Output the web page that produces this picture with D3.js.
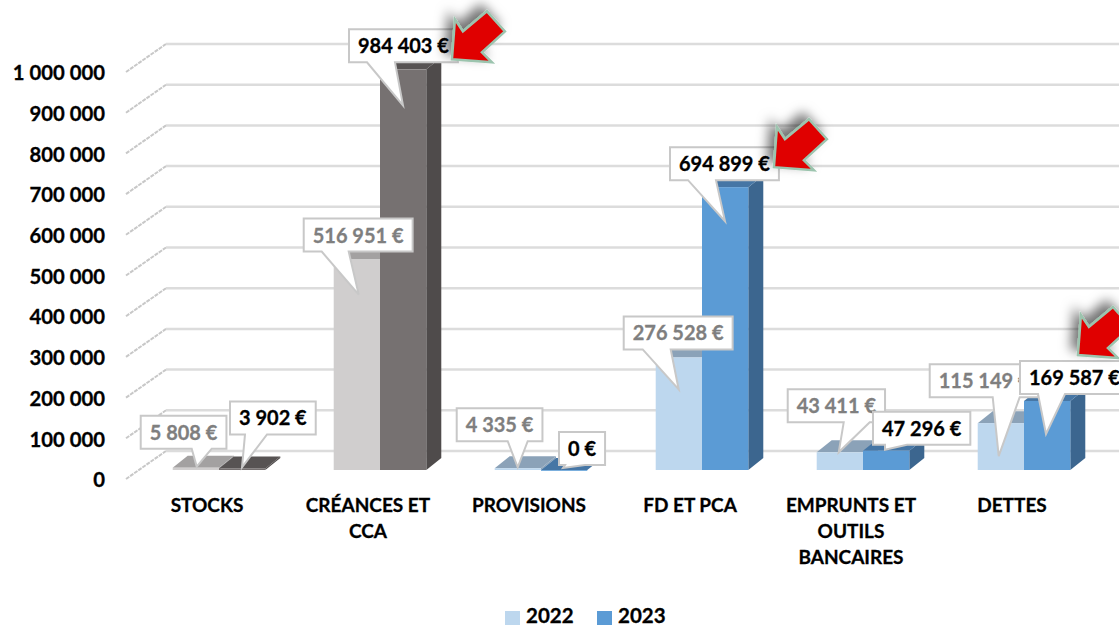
<!DOCTYPE html>
<html lang="fr">
<head>
<meta charset="utf-8">
<title>Bilan passif / actif 2022-2023</title>
<script src="https://cdn.jsdelivr.net/npm/d3@7.9.0/dist/d3.min.js"></script>
<style>
  html, body { margin: 0; padding: 0; background: #fff; overflow: hidden; }
  svg { display: block; }
  text { font-family: Lato, "Open Sans", sans-serif; font-weight: 700; stroke-width: 0.3px; paint-order: stroke; }
</style>
</head>
<body>
<div id="chart"></div>
<script>
const categories = ['STOCKS', 'CRÉANCES ET CCA', 'PROVISIONS', 'FD ET PCA', 'EMPRUNTS ET OUTILS BANCAIRES', 'DETTES'];
const categoryLines = [['STOCKS'], ['CRÉANCES ET', 'CCA'], ['PROVISIONS'], ['FD ET PCA'], ['EMPRUNTS ET', 'OUTILS', 'BANCAIRES'], ['DETTES']];
const years = ['2022', '2023'];
const values2022 = [5808, 516951, 4335, 276528, 43411, 115149];
const values2023 = [3902, 984403, 0, 694899, 47296, 169587];
const yTicks = [0, 100000, 200000, 300000, 400000, 500000, 600000, 700000, 800000, 900000, 1000000];
const highlighted = ['CRÉANCES ET CCA', 'FD ET PCA', 'DETTES'];

// bar colours per category group: front, side, top
const greyPalette = {
  2022: { front: '#d0cece', side: '#a5a3a3', top: '#a3a1a1' },
  2023: { front: '#767171', side: '#4f4b4b', top: '#575353' }
};
const bluePalette = {
  2022: { front: '#bdd7ee', side: '#8ba2b8', top: '#8ba2b8' },
  2023: { front: '#5b9bd5', side: '#3c668f', top: '#4676a5' }
};
const paletteOf = (cat) => (cat === 'STOCKS' || cat === 'CRÉANCES ET CCA') ? greyPalette : bluePalette;

// callout placement, relative to the top-left front corner of its bar
// bx,by box corner / tx,ty tail tip / t0,t1 tail root along the box bottom
const callouts2022 = [
  { bx: -32, by: -52, tx: 24, ty: -1, t0: 51, t1: 71 },
  { bx: -30, by: -41, tx: 25, ty: 35, t0: 18, t1: 45 },
  { bx: -38, by: -60, tx: 23, ty: -1, t0: 51, t1: 71 },
  { bx: -32, by: -41, tx: 23, ty: 32, t0: 19, t1: 47 },
  { bx: -29, by: -63, tx: 22, ty: 0, t0: 56, t1: 82 },
  { bx: -48, by: -59, tx: 21, ty: 33, t0: 63, t1: 90 }
];
const callouts2023 = [
  { bx: 11, by: -67, tx: 23, ty: -1, t0: 15, t1: 37 },
  { bx: -31, by: -40, tx: 23, ty: 36, t0: 18, t1: 46 },
  { bx: 18, by: -38, tx: 22, ty: -2, t0: 6, t1: 26 },
  { bx: -32, by: -40, tx: 23, ty: 34, t0: 18, t1: 46 },
  { bx: 10, by: -39, tx: 22, ty: -1, t0: 12, t1: 34 },
  { bx: -4, by: -40, tx: 22, ty: 33, t0: 18, t1: 45 }
];
// arrow tip relative to the callout box's bottom-right corner
const arrowOffsets = [[-6, -3], [-5, -13], [-51, -39]];

const width = 1119;
const height = 627;

const fr = d3.formatLocale({ decimal: ',', thousands: ' ', grouping: [3], currency: ['', ' €'] });
const fmt = fr.format(',d');

const svg = d3.select('#chart').append('svg')
  .attr('width', width)
  .attr('height', height)
  .attr('viewBox', `0 0 ${width} ${height}`);

const defs = svg.append('defs');
const shadow = defs.append('filter').attr('id', 'arrow-shadow')
  .attr('x', '-50%').attr('y', '-50%').attr('width', '200%').attr('height', '200%');
shadow.append('feDropShadow')
  .attr('dx', -6).attr('dy', -6).attr('stdDeviation', 6)
  .attr('flood-color', '#000').attr('flood-opacity', 0.55);

const yScale = d3.scaleLinear().domain([0, 1000000]).range([479, 72]);
const xScale = d3.scaleBand().domain(categories).range([138.5, 1104.5]).paddingInner(0.425).paddingOuter(0.2125);
const subScale = d3.scaleBand().domain(years).range([0, xScale.bandwidth()]);

// 3D projection offsets
const wall = { dx: 40, dy: -28 };
const bar = { dy: -9, depthX: 15, depthY: -12 };

// walls: slanted tick then the back gridline
const grid = svg.append('g').attr('class', 'grid');
grid.selectAll('line.slant')
  .data(yTicks)
  .join('line')
  .attr('class', 'slant')
  .attr('x1', 126)
  .attr('x2', 126 + wall.dx)
  .attr('y1', (d) => yScale(d))
  .attr('y2', (d) => yScale(d) + wall.dy)
  .attr('stroke', '#c8c8c8')
  .attr('stroke-width', 2)
  .attr('stroke-dasharray', '4 1');
grid.selectAll('line.back')
  .data(yTicks)
  .join('line')
  .attr('class', 'back')
  .attr('x1', 126 + wall.dx)
  .attr('x2', width)
  .attr('y1', (d) => yScale(d) + wall.dy)
  .attr('y2', (d) => yScale(d) + wall.dy)
  .attr('stroke', '#dcdcdc')
  .attr('stroke-width', 2.5);

// y axis labels
const yAxis = svg.append('g')
  .attr('transform', 'translate(105,0)')
  .call(d3.axisLeft(yScale).tickValues(yTicks).tickSize(0).tickPadding(0).tickFormat(fmt));
yAxis.select('.domain').remove();
yAxis.selectAll('text')
  .attr('fill', '#000')
  .attr('stroke', '#000')
  .attr('dy', '.38em')
  .style('font-size', '20.3px')
  .style('font-family', 'Lato, "Open Sans", sans-serif')
  .style('font-weight', 700);

const rows = categories.flatMap((cat, i) => [
  { cat, i, year: '2022', value: values2022[i], layout: callouts2022[i] },
  { cat, i, year: '2023', value: values2023[i], layout: callouts2023[i] }
]);
rows.forEach((d) => {
  d.x0 = xScale(d.cat) + subScale(d.year);
  d.x1 = d.x0 + subScale.bandwidth();
  d.yBase = yScale(0) + bar.dy;
  d.yTop = yScale(d.value) + bar.dy;
  d.colors = paletteOf(d.cat)[d.year];
});

const bars = svg.append('g').attr('class', 'bars');
const barGroups = bars.selectAll('g').data(rows).join('g');

barGroups.append('path')
  .attr('fill', (d) => d.colors.side)
  .attr('d', (d) => `M${d.x1},${d.yBase}L${d.x1 + bar.depthX},${d.yBase + bar.depthY}L${d.x1 + bar.depthX},${d.yTop + bar.depthY}L${d.x1},${d.yTop}Z`);
barGroups.append('path')
  .attr('fill', (d) => d.colors.top)
  .attr('d', (d) => `M${d.x0},${d.yTop}L${d.x0 + bar.depthX},${d.yTop + bar.depthY}L${d.x1 + bar.depthX},${d.yTop + bar.depthY}L${d.x1},${d.yTop}Z`);
barGroups.append('rect')
  .attr('fill', (d) => d.colors.front)
  .attr('x', (d) => d.x0)
  .attr('y', (d) => d.yTop)
  .attr('width', (d) => d.x1 - d.x0)
  .attr('height', (d) => Math.max(d.yBase - d.yTop, 0.8));

// category labels
const catLabels = svg.append('g').attr('class', 'categories');
categories.forEach((cat, i) => {
  const t = catLabels.append('text')
    .attr('x', xScale(cat) + xScale.bandwidth() / 2 - 12)
    .attr('y', 511.5)
    .attr('text-anchor', 'middle')
    .attr('fill', '#000')
    .attr('stroke', '#000')
    .style('font-size', '19px');
  categoryLines[i].forEach((line, j) => {
    t.append('tspan')
      .attr('x', xScale(cat) + xScale.bandwidth() / 2 - 12)
      .attr('dy', j === 0 ? 0 : 26)
      .text(line);
  });
});

// callouts, 2022 first so that 2023 sits on top
const calloutLayer = svg.append('g').attr('class', 'callouts');
const boxHeight = 33;
const drawn = {};
rows.slice().sort((a, b) => d3.ascending(a.year, b.year)).forEach((d) => {
  const g = calloutLayer.append('g');
  const shape = g.append('path');
  const bx = d.x0 + d.layout.bx;
  const by = d.yTop + d.layout.by;
  const color = d.year === '2022' ? '#7f7f7f' : '#000';
  const label = g.append('text')
    .attr('y', by + boxHeight / 2 + 7.5)
    .attr('fill', color)
    .attr('stroke', color)
    .style('font-size', '20px')
    .text(`${fmt(d.value)} €`);
  const w = label.node().getComputedTextLength() + 18;
  label.attr('x', bx + 9);
  const tipX = d.x0 + d.layout.tx;
  const tipY = d.yTop + d.layout.ty;
  shape
    .attr('fill', '#fff')
    .attr('stroke', '#c8c8c8')
    .attr('stroke-width', 2)
    .attr('d', `M${bx},${by}H${bx + w}V${by + boxHeight}H${bx + d.layout.t1}L${tipX},${tipY}L${bx + d.layout.t0},${by + boxHeight}H${bx}Z`);
  drawn[`${d.cat}-${d.year}`] = { right: bx + w, bottom: by + boxHeight };
});

// red arrows on the 2023 highlights
const arrowShape = [[0, 0], [3, -40], [11, -28], [35, -48], [53, -28], [30, -7], [40, 3]];
const arrowLine = d3.line().curve(d3.curveLinearClosed);
const arrows = svg.append('g').attr('class', 'arrows');
highlighted.forEach((cat, i) => {
  const box = drawn[`${cat}-2023`];
  arrows.append('path')
    .attr('transform', `translate(${box.right + arrowOffsets[i][0]},${box.bottom + arrowOffsets[i][1]})`)
    .attr('d', arrowLine(arrowShape))
    .attr('fill', '#e00000')
    .attr('stroke', '#9cc4ae')
    .attr('stroke-width', 2.5)
    .attr('stroke-linejoin', 'miter')
    .attr('filter', 'url(#arrow-shadow)');
});

// legend
const legendX = d3.scalePoint().domain(years).range([505, 597]);
const legend = svg.append('g').attr('class', 'legend');
years.forEach((year) => {
  legend.append('rect')
    .attr('x', legendX(year))
    .attr('y', 611)
    .attr('width', 15)
    .attr('height', 14)
    .attr('fill', bluePalette[year].front);
  legend.append('text')
    .attr('x', legendX(year) + 21)
    .attr('y', 622.5)
    .attr('fill', '#000')
    .attr('stroke', '#000')
    .style('font-size', '20.5px')
    .text(year);
});
</script>
</body>
</html>
